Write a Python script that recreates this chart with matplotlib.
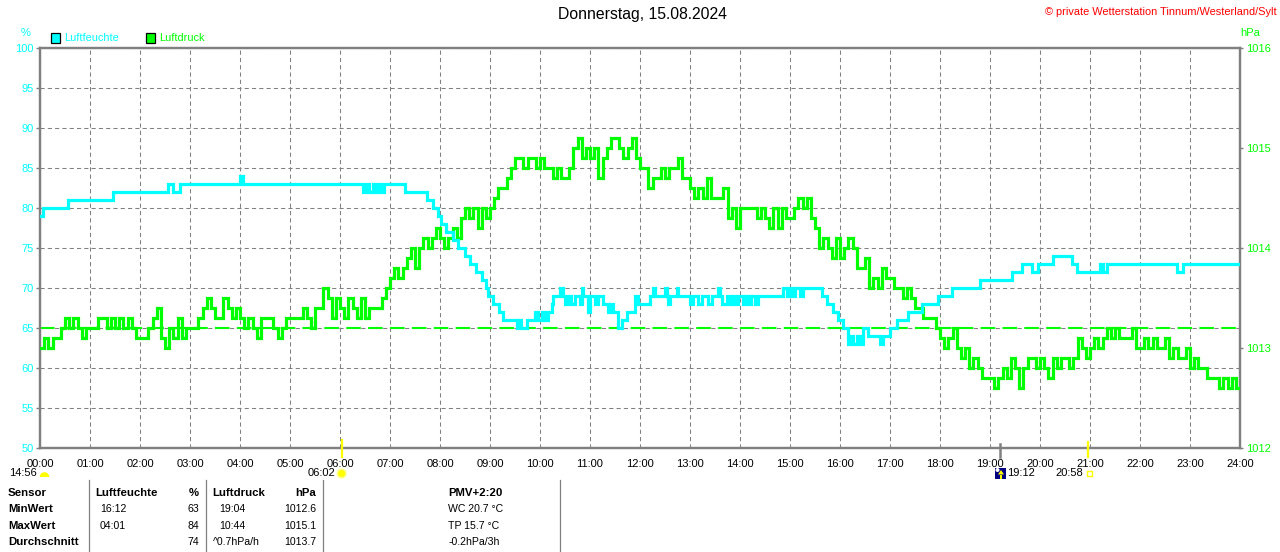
import numpy as np
import matplotlib
matplotlib.use("Agg")
import matplotlib.pyplot as plt
import matplotlib.transforms as mtransforms
from matplotlib.patches import Rectangle, Polygon, Wedge, Circle

plt.rcParams['font.family'] = ['Liberation Sans', 'DejaVu Sans']

# ---------------- data ----------------
title = "Donnerstag, 15.08.2024"
copyright_text = "© private Wetterstation Tinnum/Westerland/Sylt"

hour_ticks = list(range(25))
hour_labels = [f"{h:02d}:00" for h in hour_ticks]
hum_ticks = list(range(50, 101, 5))
press_ticks = [1012, 1013, 1014, 1015, 1016]

# humidity (%) step changes: minute of day -> value
hum_minutes = [0, 4, 34, 87, 154, 159, 168, 240, 243, 388,
               391, 395, 399, 402, 406, 409, 413, 438, 464, 472,
               477, 481, 487, 495, 502, 510, 516, 523, 530, 535,
               538, 543, 551, 555, 572, 574, 577, 584, 594, 598,
               602, 606, 609, 614, 616, 624, 627, 630, 633, 637,
               642, 648, 650, 652, 658, 660, 666, 670, 676, 681,
               684, 688, 694, 698, 704, 714, 718, 732, 736, 738,
               750, 752, 754, 756, 764, 766, 780, 784, 790, 794,
               802, 806, 813, 816, 818, 824, 828, 831, 834, 838,
               843, 846, 849, 853, 858, 861, 892, 896, 900, 903,
               906, 912, 915, 938, 944, 952, 958, 964, 970, 973,
               976, 980, 984, 988, 994, 1008, 1011, 1020, 1028, 1042,
               1058, 1078, 1094, 1128, 1166, 1178, 1190, 1198, 1216, 1238,
               1244, 1272, 1275, 1280, 1364, 1372, 1440]
hum_values = [79, 80, 81, 82, 83, 82, 83, 84, 83, 82,
              83, 82, 83, 82, 83, 82, 83, 82, 81, 80,
              79, 78, 77, 76, 75, 74, 73, 72, 71, 70,
              69, 68, 67, 66, 65, 66, 65, 66, 67, 66,
              67, 66, 67, 68, 69, 70, 69, 68, 69, 68,
              69, 68, 70, 69, 67, 69, 68, 69, 68, 67,
              68, 67, 65, 66, 67, 69, 68, 69, 70, 69,
              70, 69, 68, 69, 70, 69, 68, 69, 68, 69,
              68, 69, 70, 69, 68, 69, 68, 69, 68, 69,
              68, 69, 68, 69, 68, 69, 70, 69, 70, 69,
              70, 69, 70, 69, 68, 67, 66, 65, 63, 64,
              63, 64, 63, 65, 64, 63, 64, 65, 66, 67,
              68, 69, 70, 71, 72, 73, 72, 73, 74, 73,
              72, 73, 72, 73, 72, 73, 73]

# air pressure (hPa), one value every 5 minutes (12 per hour) + 24:00
press_interval_min = 5
press_values = [
    1013.0, 1013.1, 1013.0, 1013.1, 1013.1, 1013.2, 1013.3, 1013.2, 1013.3, 1013.2, 1013.1, 1013.2,  # 00
    1013.2, 1013.2, 1013.3, 1013.3, 1013.2, 1013.3, 1013.2, 1013.3, 1013.2, 1013.3, 1013.2, 1013.1,  # 01
    1013.1, 1013.1, 1013.2, 1013.3, 1013.4, 1013.1, 1013.0, 1013.2, 1013.1, 1013.3, 1013.1, 1013.2,  # 02
    1013.2, 1013.2, 1013.3, 1013.4, 1013.5, 1013.4, 1013.3, 1013.3, 1013.5, 1013.4, 1013.3, 1013.4,  # 03
    1013.3, 1013.2, 1013.3, 1013.2, 1013.1, 1013.3, 1013.3, 1013.3, 1013.2, 1013.1, 1013.2, 1013.3,  # 04
    1013.3, 1013.3, 1013.3, 1013.4, 1013.3, 1013.2, 1013.4, 1013.4, 1013.6, 1013.5, 1013.3, 1013.5,  # 05
    1013.4, 1013.3, 1013.5, 1013.4, 1013.3, 1013.5, 1013.3, 1013.4, 1013.4, 1013.4, 1013.5, 1013.6,  # 06
    1013.7, 1013.8, 1013.7, 1013.8, 1013.9, 1014.0, 1013.8, 1014.0, 1014.1, 1014.0, 1014.1, 1014.2,  # 07
    1014.1, 1014.0, 1014.1, 1014.2, 1014.1, 1014.3, 1014.4, 1014.3, 1014.4, 1014.2, 1014.4, 1014.3,  # 08
    1014.4, 1014.5, 1014.6, 1014.6, 1014.7, 1014.8, 1014.9, 1014.9, 1014.8, 1014.9, 1014.9, 1014.8,  # 09
    1014.9, 1014.8, 1014.8, 1014.7, 1014.8, 1014.7, 1014.7, 1014.8, 1015.0, 1015.1, 1014.9, 1015.0,  # 10
    1014.9, 1015.0, 1014.7, 1014.9, 1015.0, 1015.1, 1015.1, 1015.0, 1014.9, 1015.0, 1015.1, 1014.9,  # 11
    1014.8, 1014.8, 1014.6, 1014.7, 1014.7, 1014.8, 1014.7, 1014.8, 1014.8, 1014.9, 1014.7, 1014.7,  # 12
    1014.6, 1014.5, 1014.6, 1014.5, 1014.7, 1014.5, 1014.5, 1014.5, 1014.6, 1014.3, 1014.4, 1014.2,  # 13
    1014.4, 1014.4, 1014.4, 1014.4, 1014.3, 1014.4, 1014.3, 1014.2, 1014.4, 1014.2, 1014.4, 1014.3,  # 14
    1014.3, 1014.4, 1014.5, 1014.4, 1014.5, 1014.3, 1014.2, 1014.0, 1014.1, 1014.0, 1013.9, 1014.1,  # 15
    1013.9, 1014.0, 1014.1, 1014.0, 1013.8, 1013.8, 1013.9, 1013.6, 1013.7, 1013.6, 1013.8, 1013.7,  # 16
    1013.7, 1013.6, 1013.6, 1013.5, 1013.6, 1013.5, 1013.4, 1013.4, 1013.3, 1013.3, 1013.3, 1013.2,  # 17
    1013.1, 1013.0, 1013.1, 1013.2, 1013.0, 1012.9, 1013.0, 1012.8, 1012.9, 1012.8, 1012.7, 1012.7,  # 18
    1012.7, 1012.6, 1012.7, 1012.8, 1012.7, 1012.9, 1012.8, 1012.6, 1012.8, 1012.9, 1012.9, 1012.8,  # 19
    1012.9, 1012.8, 1012.7, 1012.9, 1012.8, 1012.9, 1012.9, 1012.8, 1012.9, 1013.1, 1013.0, 1012.9,  # 20
    1013.0, 1013.1, 1013.0, 1013.1, 1013.2, 1013.1, 1013.2, 1013.1, 1013.1, 1013.1, 1013.2, 1013.0,  # 21
    1013.0, 1013.1, 1013.0, 1013.1, 1013.0, 1013.0, 1013.1, 1012.9, 1013.0, 1012.9, 1012.9, 1013.0,  # 22
    1012.8, 1012.9, 1012.8, 1012.8, 1012.7, 1012.7, 1012.7, 1012.6, 1012.7, 1012.6, 1012.7, 1012.6,  # 23
    1012.6]

press_dashed_level = 1013.2

# astronomical events shown below the time axis
event_moon_a = "14:56"
event_sunrise = "06:02"
event_sunset = "19:12"
event_moon_b = "20:58"

# summary table
table_header = ["Sensor", "Luftfeuchte", "%", "Luftdruck", "hPa", "PMV+2:20"]
row_names = ["MinWert", "MaxWert", "Durchschnitt"]
hum_time = ["16:12", "04:01", ""]
hum_val = ["63", "84", "74"]
press_time = ["19:04", "10:44", "^0.7hPa/h"]
press_val = ["1012.6", "1015.1", "1013.7"]
pmv_col = ["WC 20.7 °C", "TP 15.7 °C", "-0.2hPa/3h"]

# ---------------- styling ----------------
W, H = 1280, 552
CYAN = "#00FFFF"
GREEN = "#00FF00"
GRAY = "#808080"
AX_L, AX_R, AX_T, AX_B = 40, 1240, 48, 448

fig = plt.figure(figsize=(W / 100, H / 100), dpi=100)
fig.patch.set_facecolor("white")

ax = fig.add_axes([AX_L / W, (H - AX_B) / H, (AX_R - AX_L) / W, (AX_B - AX_T) / H])
ax2 = ax.twinx()

ax.set_xlim(0, 24)
ax.set_ylim(50, 100)
ax2.set_ylim(1012, 1016)

ax.set_xticks(hour_ticks)
ax.set_xticklabels(hour_labels)
ax.set_yticks(hum_ticks)
ax.set_yticklabels([str(v) for v in hum_ticks])
ax2.set_yticks(press_ticks)
ax2.set_yticklabels([str(v) for v in press_ticks])

ax.grid(True, color=GRAY, linestyle=(0, (4, 3)), linewidth=0.75)
ax.set_axisbelow(True)

for a in (ax, ax2):
    for s in a.spines.values():
        s.set_color(GRAY)
        s.set_linewidth(1.6)

ax.tick_params(axis="x", length=0, pad=8, labelsize=8, labelcolor="black")
ax.tick_params(axis="y", length=3, width=1, color=GRAY, pad=1.5, labelsize=8, labelcolor=CYAN)
ax2.tick_params(axis="y", length=2.5, width=1, color=GRAY, pad=2, labelsize=8, labelcolor=GREEN)

# humidity axes drawn on top of the pressure twin so its grid stays below all data
ax.set_zorder(ax2.get_zorder() + 1)
ax.patch.set_visible(False)

# pressure coordinates (x: hours, y: hPa) drawn inside ax
press_trans = mtransforms.blended_transform_factory(ax.transData, ax2.transData)
press_h_trans = mtransforms.blended_transform_factory(ax.transAxes, ax2.transData)

# dashed reference line
ax.plot([0, 1], [press_dashed_level] * 2, color=GREEN, linewidth=1.5,
        linestyle=(0, (7, 3.5)), transform=press_h_trans, zorder=2)

# pressure series
press_t = np.arange(len(press_values)) * press_interval_min / 60.0
ax.plot(press_t, press_values, color=GREEN, linewidth=2.3, drawstyle="steps-post",
        solid_joinstyle="miter", transform=press_trans, zorder=3)

# humidity series (on top)
hum_t = np.array(hum_minutes) / 60.0
ax.plot(hum_t, hum_values, color=CYAN, linewidth=2.3, drawstyle="steps-post",
        solid_joinstyle="miter", zorder=4)


def hm(s):
    h, m = s.split(":")
    return int(h) + int(m) / 60.0


# event markers on the time axis
xt = ax.get_xaxis_transform()
ax.plot([hm(event_sunrise)] * 2, [0.02, -0.022], color="#FFFF00", linewidth=1.6,
        transform=xt, clip_on=False, zorder=6)
ax.plot([hm(event_moon_b)] * 2, [0.015, -0.022], color="#FFFF00", linewidth=1.6,
        transform=xt, clip_on=False, zorder=6)
ax.plot([hm(event_sunset)] * 2, [0.01, -0.022], color=GRAY, linewidth=1.8,
        transform=xt, clip_on=False, zorder=6)

# ---------------- overlay (pixel coordinates) ----------------
ov = fig.add_axes([0, 0, 1, 1])
ov.set_xlim(0, W)
ov.set_ylim(H, 0)
ov.axis("off")
ov.patch.set_visible(False)
ov.set_zorder(10)


def hx(h):
    return AX_L + (AX_R - AX_L) * h / 24.0


ov.text(642, 15, title, ha="center", va="center", fontsize=11.3, color="black")
ov.text(1277, 12, copyright_text, ha="right", va="center", fontsize=7.9, color="#FF0000")

ov.text(26, 32.5, "%", ha="center", va="center", fontsize=8, color=CYAN)
ov.text(1240, 32.5, "hPa", ha="left", va="center", fontsize=8, color=GREEN)

# legend
ov.add_patch(Rectangle((50.5, 33), 9.5, 9.5, facecolor=CYAN, edgecolor="black", linewidth=0.9))
ov.text(64, 38, "Luftfeuchte", ha="left", va="center", fontsize=7.9, color=CYAN)
ov.add_patch(Rectangle((145.5, 33), 9.5, 9.5, facecolor=GREEN, edgecolor="black", linewidth=0.9))
ov.text(159, 38, "Luftdruck", ha="left", va="center", fontsize=7.9, color=GREEN)

# event labels and icons
ev_y = 473.5
ov.text(37, ev_y, event_moon_a, ha="right", va="center", fontsize=8, color="black")
ov.add_patch(Wedge((44.5, 477), 4.8, 180, 360, facecolor="#FFFF00", edgecolor="none"))

xs = hx(hm(event_sunrise))
ov.text(xs - 6, ev_y, event_sunrise, ha="right", va="center", fontsize=8, color="black")
ov.add_patch(Circle((xs, ev_y), 5.2, facecolor="#FFFF99", edgecolor="none"))
ov.add_patch(Circle((xs, ev_y), 3.6, facecolor="#FFFF00", edgecolor="none"))

xss = hx(hm(event_sunset))
ov.add_patch(Rectangle((xss - 5, 467.5), 11, 11.5, facecolor="#000080", edgecolor="none"))
ov.add_patch(Circle((xss - 2.5, 470), 2, facecolor="white", edgecolor="none"))
ov.add_patch(Polygon([[xss + 1, 470], [xss - 2, 474.5], [xss + 4, 474.5]], closed=True,
                     facecolor="#FFFF00", edgecolor="none"))
ov.add_patch(Rectangle((xss, 474.5), 2, 4.5, facecolor="#FFFF00", edgecolor="none"))
ov.text(xss + 7, ev_y, event_sunset, ha="left", va="center", fontsize=8, color="black")

xm = hx(hm(event_moon_b))
ov.text(xm - 5, ev_y, event_moon_b, ha="right", va="center", fontsize=8, color="black")
ov.add_patch(Rectangle((xm - 1.5, 471), 5, 5, facecolor="none", edgecolor="#FFFF00", linewidth=1))

# table separators
for sx in (89, 206, 323, 560):
    ov.plot([sx, sx], [480, 552], color=GRAY, linewidth=0.9)

row_y = [493, 509.5, 526, 542]
fs_b = 8.2
fs_r = 7.6
ov.text(8, row_y[0], table_header[0], ha="left", va="center", fontsize=fs_b, fontweight="bold")
ov.text(95, row_y[0], table_header[1], ha="left", va="center", fontsize=fs_b, fontweight="bold")
ov.text(199, row_y[0], table_header[2], ha="right", va="center", fontsize=fs_b, fontweight="bold")
ov.text(212.5, row_y[0], table_header[3], ha="left", va="center", fontsize=fs_b, fontweight="bold")
ov.text(316, row_y[0], table_header[4], ha="right", va="center", fontsize=fs_b, fontweight="bold")
ov.text(448.5, row_y[0], table_header[5], ha="left", va="center", fontsize=fs_b, fontweight="bold")

for i in range(3):
    y = row_y[i + 1]
    ov.text(8, y, row_names[i], ha="left", va="center", fontsize=fs_b, fontweight="bold")
    ov.text(100, y, hum_time[i], ha="left", va="center", fontsize=fs_r)
    ov.text(199, y, hum_val[i], ha="right", va="center", fontsize=fs_r)
    xt0 = 212.5 if press_time[i].startswith("^") else 219
    ov.text(xt0, y, press_time[i], ha="left", va="center", fontsize=fs_r)
    ov.text(316, y, press_val[i], ha="right", va="center", fontsize=fs_r)
    ov.text(448.5, y, pmv_col[i], ha="left", va="center", fontsize=fs_r)

fig.savefig("out.png", dpi=100, facecolor="white")
